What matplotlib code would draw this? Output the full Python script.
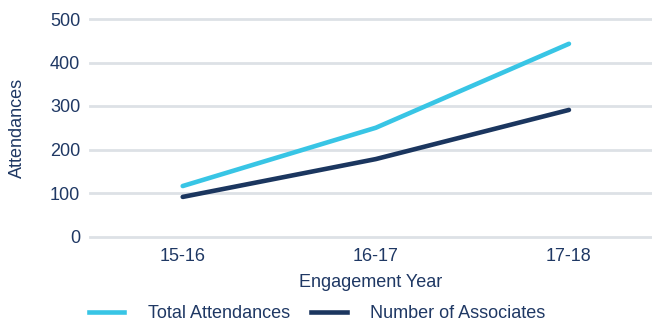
import matplotlib
matplotlib.use("Agg")
import matplotlib.pyplot as plt
from matplotlib.lines import Line2D

plt.rcParams['font.family'] = ['Liberation Sans', 'DejaVu Sans']

years = ["15-16", "16-17", "17-18"]
total_attendances = [116, 250, 443]
number_of_associates = [91, 178, 291]
yticks = [0, 100, 200, 300, 400, 500]

light_blue = "#38C5E5"
navy = "#1B365F"
text_color = "#1F3864"
grid_color = "#DDE1E6"
fs = 13

W, H = 652, 322
fig = plt.figure(figsize=(W / 100, H / 100), dpi=100)
ax = fig.add_axes([90 / W, 1 - 236.5 / H, (652 - 90) / W, (236.5 - 19) / H])

x = range(len(years))
ax.plot(x, total_attendances, color=light_blue, lw=3.3, solid_capstyle='round', zorder=3)
ax.plot(x, number_of_associates, color=navy, lw=3.3, solid_capstyle='round', zorder=3)

ax.set_ylim(0, 500)
ax.set_xlim(-0.48, 2.43)
ax.set_yticks(yticks)
ax.set_yticklabels([str(v) for v in yticks])
ax.set_xticks(list(x))
ax.set_xticklabels(years)
ax.yaxis.grid(True, color=grid_color, lw=2)
ax.set_axisbelow(True)
for s in ax.spines.values():
    s.set_visible(False)
ax.tick_params(length=0, labelsize=fs, colors=text_color)
ax.tick_params(axis='y', pad=7)
ax.tick_params(axis='x', pad=8)
for ln in ax.get_ygridlines():
    ln.set_clip_on(False)

ax.set_ylabel("Attendances", fontsize=fs, color=text_color)
ax.yaxis.set_label_coords(-64 / (652 - 90), 0.5)
ax.set_xlabel("Engagement Year", fontsize=fs, color=text_color, labelpad=7)

handles = [Line2D([], [], color=light_blue, lw=3.3),
           Line2D([], [], color=navy, lw=3.3)]
fig.legend(handles, ["Total Attendances", "Number of Associates"],
           loc='center left', bbox_to_anchor=(89 / W, 1 - 314 / H),
           ncol=2, frameon=False, fontsize=fs, labelcolor=text_color,
           handlelength=1.95, handletextpad=1.3, columnspacing=1.2,
           borderaxespad=0, borderpad=0)

fig.savefig("out.png", dpi=100)
